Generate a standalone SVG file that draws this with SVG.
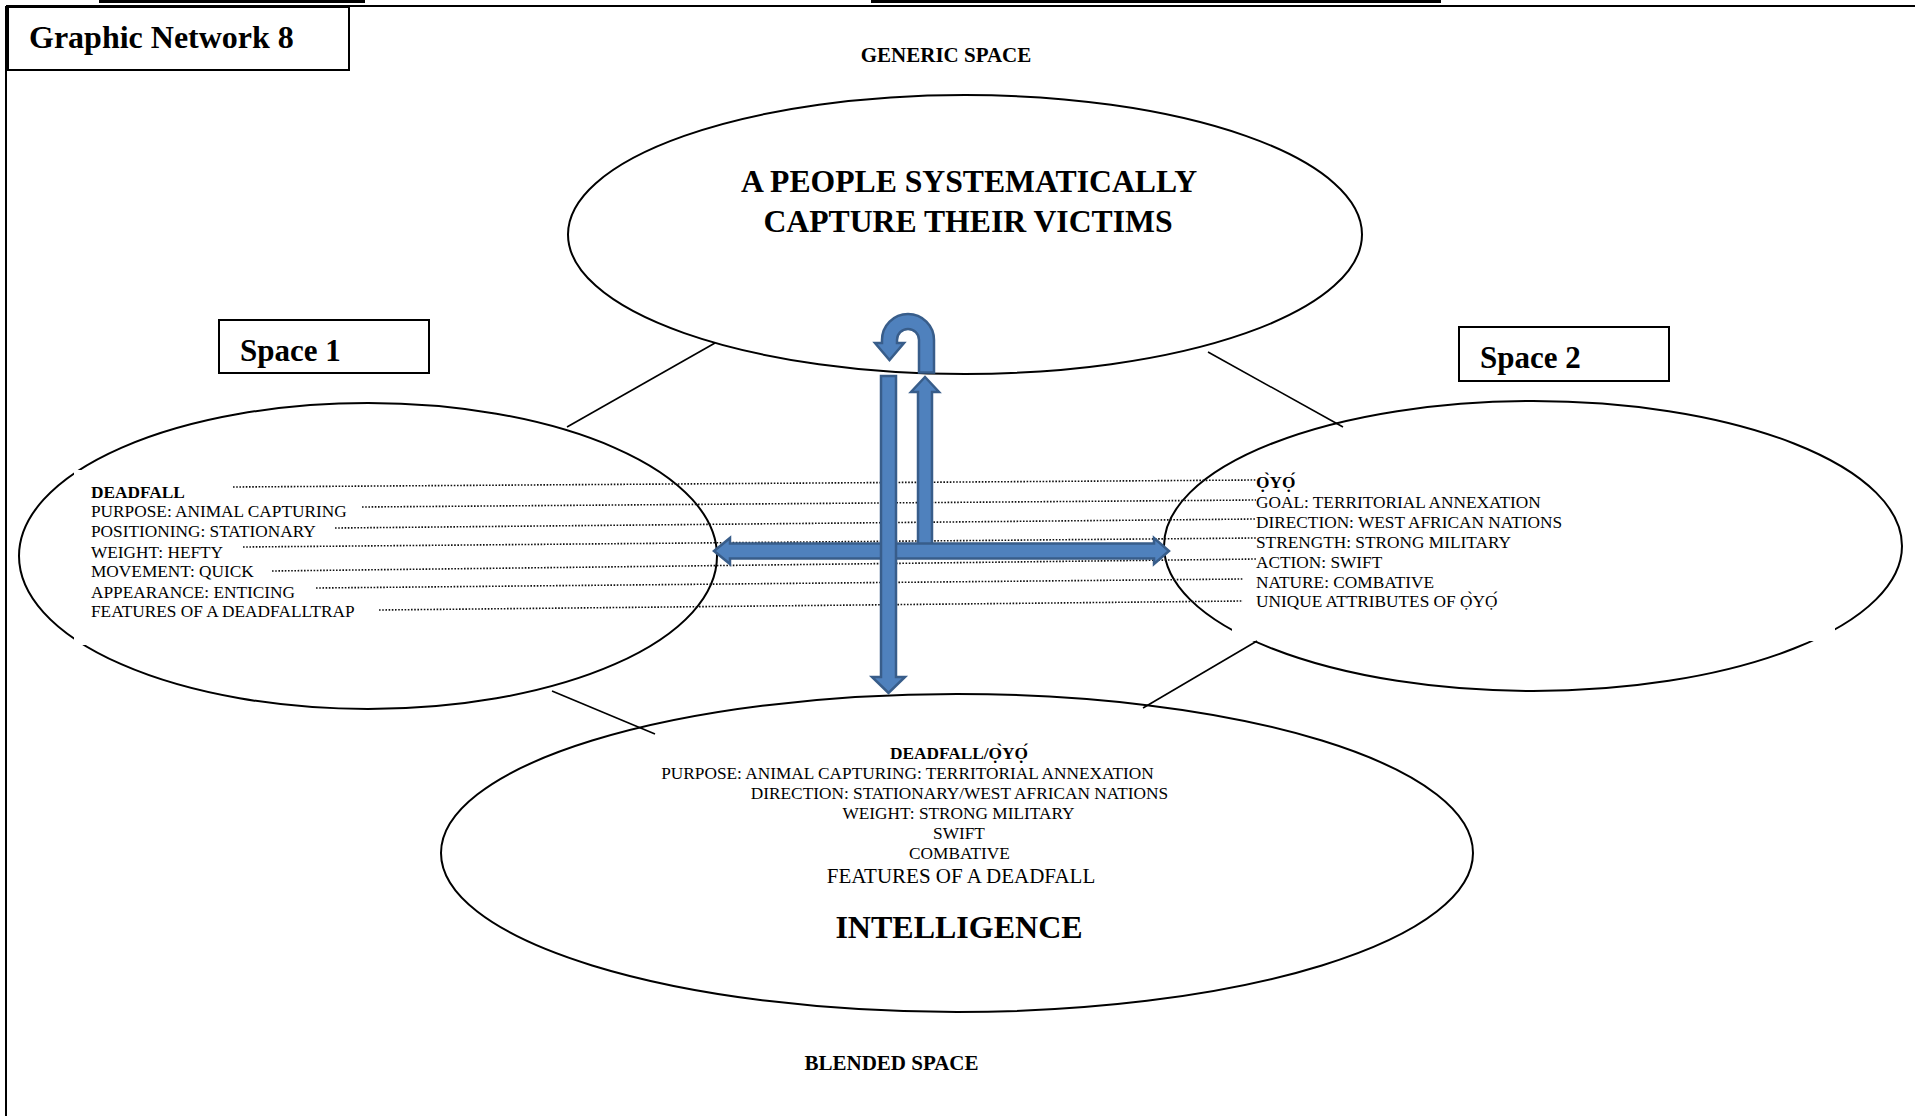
<svg xmlns="http://www.w3.org/2000/svg" width="1915" height="1116" viewBox="0 0 1915 1116">
  <style>
    text { font-family: "Liberation Serif", "Times New Roman", serif; fill: #000; }
    .b { font-weight: bold; }
    .item { font-size: 17.3px; }
    .mid { text-anchor: middle; }
    .oval { fill: none; stroke: #000; stroke-width: 2; }
    .box { fill: #fff; stroke: #000; stroke-width: 2; }
    .mask { fill: #fff; stroke: none; }
    .link { stroke: #000; stroke-width: 1.6; fill: none; }
    .dots { stroke: #111; stroke-width: 1.6; stroke-dasharray: 1.6 1.6; fill: none; }
    .blue { fill: #4f81bd; stroke: #385d8a; stroke-width: 2.5; stroke-linejoin: miter; }
  </style>

  <!-- page frame -->
  <g id="frame">
    <rect x="99" y="0" width="266" height="3" fill="#000"/>
    <rect x="871" y="0" width="570" height="3" fill="#000"/>
    <line x1="6" y1="6" x2="1915" y2="6" stroke="#000" stroke-width="2"/>
    <line x1="6" y1="6" x2="6" y2="1116" stroke="#000" stroke-width="2"/>
  </g>

  <g id="title">
    <rect class="box" x="8" y="7" width="341" height="63"/>
    <text class="b" x="29" y="48" font-size="32">Graphic Network 8</text>
  </g>

  <text id="generic-label" class="b mid" x="946" y="62" font-size="21">GENERIC SPACE</text>

  <!-- mental spaces -->
  <g id="generic-space">
    <ellipse class="oval" cx="965" cy="234.5" rx="397" ry="139.5"/>
    <text class="b mid" x="969" y="192" font-size="31.7">A PEOPLE SYSTEMATICALLY</text>
    <text class="b mid" x="968" y="232" font-size="31.7">CAPTURE THEIR VICTIMS</text>
  </g>

  <g id="space1-label">
    <rect class="box" x="219" y="320" width="210" height="53"/>
    <text class="b" x="240" y="361" font-size="31">Space 1</text>
  </g>

  <g id="space2-label">
    <rect class="box" x="1459" y="327" width="210" height="54"/>
    <text class="b" x="1480" y="368" font-size="31">Space 2</text>
  </g>

  <g id="space1">
    <ellipse class="oval" cx="368" cy="556" rx="349" ry="153"/>
    <rect class="mask" x="74" y="470" width="566" height="175"/>
  </g>

  <g id="space2">
    <ellipse class="oval" cx="1533" cy="546" rx="369" ry="145"/>
    <rect class="mask" x="1232" y="470" width="603" height="171"/>
  </g>

  <g id="blended-space">
    <ellipse class="oval" cx="957" cy="853" rx="516" ry="159"/>
  </g>

  <!-- connectors between the spaces -->
  <g id="connectors">
    <line class="link" x1="715" y1="343" x2="567" y2="427"/>
    <line class="link" x1="1208" y1="352" x2="1343" y2="427"/>
    <line class="link" x1="552" y1="691" x2="655" y2="734"/>
    <line class="link" x1="1257" y1="641" x2="1143" y2="708"/>

    <!-- dotted cross-space mappings -->
    <line class="dots" x1="233" y1="487" x2="1256" y2="480"/>
    <line class="dots" x1="362" y1="507" x2="1256" y2="500"/>
    <line class="dots" x1="335" y1="528" x2="1256" y2="519"/>
    <line class="dots" x1="243" y1="547" x2="1256" y2="538"/>
    <line class="dots" x1="272" y1="571" x2="1256" y2="559"/>
    <line class="dots" x1="316" y1="588" x2="1243" y2="579"/>
    <line class="dots" x1="379" y1="610" x2="1243" y2="601"/>

    <!-- block arrows -->
    <polygon class="blue" points="918,547 918,392 911,392 925,377 939,392 932,392 932,547"/>
    <polygon class="blue" points="714,551 730,538 730,543.5 1154,543.5 1154,538 1169,551 1154,564 1154,558.5 730,558.5 730,564"/>
    <polygon class="blue" points="881,376 896,376 896,677 905,677 888.5,693 872,677 881,677"/>
    <path class="blue" d="M919,372.5 L919,340 A11,11 0 0 0 897,340 L897,343 L904,343 L889.5,360 L875,343 L882,343 L882,340 A26,26 0 0 1 934,340 L934,372.5 Z"/>
  </g>

  <!-- Space 1 contents -->
  <g id="space1-text" class="item">
    <text class="b" x="91" y="498">DEADFALL</text>
    <text x="91" y="517">PURPOSE: ANIMAL CAPTURING</text>
    <text x="91" y="537">POSITIONING: STATIONARY</text>
    <text x="91" y="558">WEIGHT: HEFTY</text>
    <text x="91" y="577">MOVEMENT: QUICK</text>
    <text x="91" y="598">APPEARANCE: ENTICING</text>
    <text x="91" y="617">FEATURES OF A DEADFALLTRAP</text>
  </g>

  <!-- Space 2 contents -->
  <g id="space2-text" class="item">
    <text class="b" x="1256" y="488">&#x1ECC;&#x300;Y&#x1ECC;&#x301;</text>
    <text x="1256" y="508">GOAL: TERRITORIAL ANNEXATION</text>
    <text x="1256" y="528">DIRECTION: WEST AFRICAN NATIONS</text>
    <text x="1256" y="548">STRENGTH: STRONG MILITARY</text>
    <text x="1256" y="568">ACTION: SWIFT</text>
    <text x="1256" y="588">NATURE: COMBATIVE</text>
    <text x="1256" y="607">UNIQUE ATTRIBUTES OF &#x1ECC;&#x300;Y&#x1ECC;&#x301;</text>
  </g>

  <!-- blended space contents -->
  <g id="blended-text" class="item">
    <text class="b mid" x="959" y="759">DEADFALL/&#x1ECC;&#x300;Y&#x1ECC;&#x301;</text>
    <text class="mid" x="907.5" y="779">PURPOSE: ANIMAL CAPTURING: TERRITORIAL ANNEXATION</text>
    <text class="mid" x="959.5" y="799">DIRECTION: STATIONARY/WEST AFRICAN NATIONS</text>
    <text class="mid" x="958.5" y="819">WEIGHT: STRONG MILITARY</text>
    <text class="mid" x="959" y="839">SWIFT</text>
    <text class="mid" x="959.5" y="859">COMBATIVE</text>
    <text class="mid" x="961" y="883" font-size="21">FEATURES OF A DEADFALL</text>
    <text class="b mid" x="959" y="938" font-size="32">INTELLIGENCE</text>
  </g>

  <text id="blended-label" class="b mid" x="891.5" y="1070" font-size="21">BLENDED SPACE</text>
</svg>
